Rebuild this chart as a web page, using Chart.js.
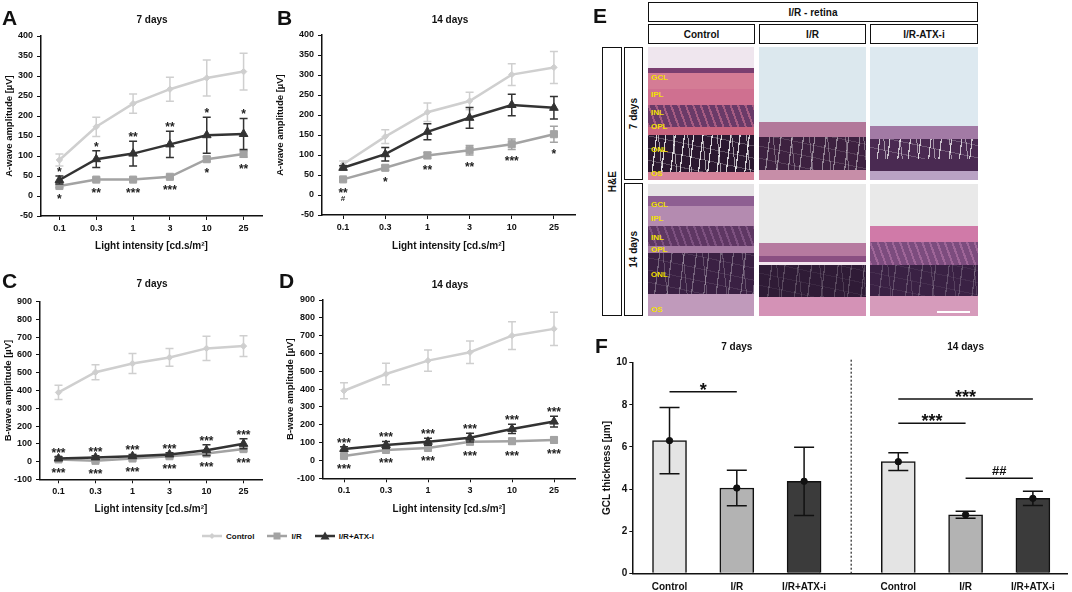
<!DOCTYPE html>
<html>
<head>
<meta charset="utf-8">
<title>ERG amplitudes and GCL thickness</title>
<script src="https://cdn.jsdelivr.net/npm/chart.js@4.4.1/dist/chart.umd.min.js"></script>
<style>
  body { margin: 0; background: #fff; }
  #fig { position: relative; width: 1072px; height: 592px; overflow: hidden;
         font-family: 'Liberation Sans', Arial, sans-serif; font-weight: bold; color: #111; }
  .abs { position: absolute; }
  .letter { position: absolute; font-size: 21px; line-height: 21px; }
  .ptitle { position: absolute; font-size: 10px; white-space: nowrap; transform: translate(-50%, -50%); }
  .box { position: absolute; box-sizing: border-box; border: 1.5px solid #111; background: #fff;
         display: flex; align-items: center; justify-content: center; font-size: 10px; white-space: nowrap; }
  .vert { writing-mode: vertical-rl; transform: rotate(180deg); }
  .tissue { position: absolute; overflow: hidden; }
  .layer { position: absolute; left: 3px; font-size: 8px; line-height: 8px; color: #f2e200; transform: translateY(-50%); }
  #legend { position: absolute; left: 202px; top: 531px; display: flex; align-items: center; font-size: 8px; }
  #legend .item { display: flex; align-items: center; margin-right: 13px; }
  #legend svg { margin-right: 4px; }
</style>
</head>
<body>
<div id="fig"></div>
<script>
// ---- data ----
const intensities = ['0.1', '0.3', '1', '3', '10', '25'];
const seriesNames = ['Control', 'I/R', 'I/R+ATX-i'];
const aWaveTicks = [-50, 0, 50, 100, 150, 200, 250, 300, 350, 400];
const bWaveTicks = [-100, 0, 100, 200, 300, 400, 500, 600, 700, 800, 900];

// A: a-wave, 7 days
const aControl = [90, 173, 231, 267, 295, 311];
const aControlSem = [15, 24, 24, 30, 45, 46];
const aIR = [25, 41, 41, 48, 92, 105];
const aIRSem = [4, 4, 4, 4, 6, 8];
const aATX = [40, 92, 106, 129, 152, 155];
const aATXSem = [10, 21, 31, 33, 45, 39];
const aStarsUp = ['*', '*', '**', '**', '*', '*'];
const aStarsDown = ['*', '**', '***', '***', '*', '**'];

// B: a-wave, 14 days
const bControl = [77, 146, 207, 235, 301, 319];
const bControlSem = [8, 17, 23, 22, 27, 40];
const bIR = [39, 68, 99, 112, 127, 152];
const bIRSem = [4, 6, 8, 12, 13, 20];
const bATX = [68, 102, 158, 193, 225, 218];
const bATXSem = [5, 17, 20, 26, 27, 28];
const bStarsUp = ['', '', '', '', '', ''];
const bStarsDown = ['**\n#', '*', '**', '**', '***', '*'];

// C: b-wave, 7 days
const cControl = [389, 503, 552, 586, 637, 650];
const cControlSem = [40, 42, 56, 50, 68, 58];
const cIR = [12, 4, 17, 30, 45, 70];
const cIRSem = [8, 8, 8, 8, 10, 10];
const cATX = [17, 23, 30, 40, 64, 100];
const cATXSem = [10, 10, 10, 10, 30, 28];
const cStarsUp = ['***', '***', '***', '***', '***', '***'];
const cStarsDown = ['***', '***', '***', '***', '***', '***'];

// D: b-wave, 14 days
const dControl = [391, 485, 560, 607, 700, 738];
const dControlSem = [45, 60, 60, 63, 78, 93];
const dIR = [25, 59, 70, 105, 108, 115];
const dIRSem = [8, 8, 8, 15, 15, 15];
const dATX = [65, 87, 105, 128, 177, 218];
const dATXSem = [12, 20, 20, 25, 26, 30];
const dStarsUp = ['***', '***', '***', '***', '***', '***'];
const dStarsDown = ['***', '***', '***', '***', '***', '***'];

// F: GCL thickness
const fGroups = ['7 days', '14 days'];
const fLabels = ['Control', 'I/R', 'I/R+ATX-i', 'Control', 'I/R', 'I/R+ATX-i'];
const fMean = [6.3, 4.05, 4.37, 5.3, 2.78, 3.56];
const fSD = [1.57, 0.84, 1.62, 0.42, 0.17, 0.34];
const gclTicks = [0, 2, 4, 6, 8, 10];
const fSigFrom = [0, 3, 3, 4];
const fSigTo = [1, 5, 4, 5];
const fSigY = [8.62, 8.28, 7.12, 4.51];
const fSigText = ['*', '***', '***', '##'];

// ---- setup ----
const fig = document.getElementById('fig');
const FONT = "'Liberation Sans', Arial, sans-serif";
Chart.defaults.font.family = FONT;
Chart.defaults.font.weight = 'bold';
Chart.defaults.color = '#111';
const INK = '#111';
const C_CTRL = '#cfcfcf', C_IR = '#a3a3a3', C_ATX = '#333333';
const BAR_COLORS = ['#e4e4e4', '#b3b3b3', '#3b3b3b'];

function addCanvas(left, top, w, h) {
  const c = document.createElement('canvas');
  c.width = w; c.height = h;
  c.className = 'abs';
  c.style.left = left + 'px'; c.style.top = top + 'px';
  c.style.width = w + 'px'; c.style.height = h + 'px';
  fig.appendChild(c);
  return c;
}

function addText(cls, left, top, text) {
  const d = document.createElement('div');
  d.className = cls;
  d.style.left = left + 'px'; d.style.top = top + 'px';
  d.textContent = text;
  fig.appendChild(d);
  return d;
}

// draws asterisks / hashes with their visual centre at cy
function drawMarks(ctx, text, x, cy, size) {
  ctx.font = 'bold ' + size + 'px ' + FONT;
  ctx.textAlign = 'center';
  ctx.textBaseline = 'alphabetic';
  const k = text.indexOf('*') >= 0 ? 0.57 : 0.36;
  ctx.fillText(text, x, cy + k * size);
}

const valueOf = d => (typeof d === 'object' ? d.y : d);

const errorBars = {
  id: 'errorBars',
  beforeDatasetDraw(chart, args) {
    const ds = chart.data.datasets[args.index];
    if (!ds.sem) return;
    const { ctx } = chart;
    const y = chart.scales.y;
    const cap = (ds.capWidth || 8) / 2;
    ctx.save();
    ctx.strokeStyle = ds.errColor || ds.borderColor;
    ctx.lineWidth = 1.5;
    args.meta.data.forEach((pt, i) => {
      const v = valueOf(ds.data[i]), e = ds.sem[i];
      const top = y.getPixelForValue(v + e), bot = y.getPixelForValue(v - e);
      ctx.beginPath();
      ctx.moveTo(pt.x, top); ctx.lineTo(pt.x, bot);
      ctx.moveTo(pt.x - cap, top); ctx.lineTo(pt.x + cap, top);
      ctx.moveTo(pt.x - cap, bot); ctx.lineTo(pt.x + cap, bot);
      ctx.stroke();
    });
    ctx.restore();
  }
};

function starsFor(up, down) {
  return {
    id: 'stars',
    afterDatasetsDraw(chart) {
      const { ctx } = chart;
      const y = chart.scales.y;
      const irDs = chart.data.datasets[1], atxDs = chart.data.datasets[2];
      const meta = chart.getDatasetMeta(1);
      ctx.save();
      ctx.fillStyle = '#222';
      intensities.forEach((_, i) => {
        const x = meta.data[i].x;
        if (up[i]) {
          const cy = y.getPixelForValue(atxDs.data[i] + atxDs.sem[i]) - 7;
          drawMarks(ctx, up[i], x, cy, 12);
        }
        if (down[i]) {
          let cy = y.getPixelForValue(irDs.data[i] - irDs.sem[i]) + 9;
          down[i].split('\n').forEach(line => {
            drawMarks(ctx, line, x, cy, line.indexOf('#') >= 0 ? 8 : 12);
            cy += 8.5;
          });
        }
      });
      ctx.restore();
    }
  };
}

function linePanel(p) {
  const cv = addCanvas(p.left, p.top, p.w, p.h);
  const mk = (label, data, sem, color, style, radius, order) => ({
    label, data, sem,
    borderColor: color, backgroundColor: color,
    pointBackgroundColor: color, pointBorderColor: color,
    pointStyle: style, pointRadius: radius, pointBorderWidth: 1,
    borderWidth: 2.5, tension: 0, order
  });
  return new Chart(cv, {
    type: 'line',
    data: {
      labels: intensities,
      datasets: [
        mk(seriesNames[0], p.ctrl, p.ctrlSem, C_CTRL, 'rectRot', 3.2, 2),
        mk(seriesNames[1], p.ir, p.irSem, C_IR, 'rect', 5, 1),
        mk(seriesNames[2], p.atx, p.atxSem, C_ATX, 'triangle', 5, 0)
      ]
    },
    options: {
      responsive: false,
      animation: false,
      events: [],
      layout: { padding: { left: 0, top: p.padTop, right: p.padRight, bottom: 0 } },
      plugins: { legend: { display: false }, tooltip: { enabled: false } },
      scales: {
        x: {
          offset: true,
          grid: { drawOnChartArea: false, tickLength: 4, color: INK, lineWidth: 1 },
          border: { color: INK, width: 1.5 },
          ticks: { font: { size: 9, weight: 'bold' }, color: INK, padding: 3, maxRotation: 0, autoSkip: false },
          title: { display: true, text: 'Light intensity [cd.s/m²]', font: { size: 10, weight: 'bold' },
                   color: INK, padding: { top: 0, bottom: 3 } },
          afterFit: s => { s.height = p.xAxisH; }
        },
        y: {
          min: p.ticks[0],
          max: p.ticks[p.ticks.length - 1],
          afterBuildTicks: s => { s.ticks = p.ticks.map(v => ({ value: v })); },
          grid: { drawOnChartArea: false, tickLength: 4, color: INK, lineWidth: 1 },
          border: { color: INK, width: 1.5 },
          ticks: { font: { size: 9, weight: 'bold' }, color: INK, padding: 4 },
          title: { display: true, text: p.yTitle, font: { size: 9.5, weight: 'bold' },
                   color: INK, padding: { top: p.titlePad, bottom: 0 } },
          afterFit: s => { s.width = p.yAxisW; }
        }
      }
    },
    plugins: [errorBars, starsFor(p.up, p.down)]
  });
}

// ---- panels A-D ----
linePanel({ left: 0, top: 0, w: 268, h: 255, yAxisW: 41, padTop: 36, padRight: 3, xAxisH: 39, titlePad: 3.8,
  ticks: aWaveTicks, yTitle: 'A-wave amplitude [µV]',
  ctrl: aControl, ctrlSem: aControlSem, ir: aIR, irSem: aIRSem, atx: aATX, atxSem: aATXSem,
  up: aStarsUp, down: aStarsDown });
linePanel({ left: 270, top: 0, w: 311, h: 255, yAxisW: 52, padTop: 35, padRight: 4, xAxisH: 40, titlePad: 4.3,
  ticks: aWaveTicks, yTitle: 'A-wave amplitude [µV]',
  ctrl: bControl, ctrlSem: bControlSem, ir: bIR, irSem: bIRSem, atx: bATX, atxSem: bATXSem,
  up: bStarsUp, down: bStarsDown });
linePanel({ left: 0, top: 250, w: 268, h: 268, yAxisW: 40, padTop: 51.7, padRight: 3, xAxisH: 38.7, titlePad: 2.8,
  ticks: bWaveTicks, yTitle: 'B-wave amplitude [µV]',
  ctrl: cControl, ctrlSem: cControlSem, ir: cIR, irSem: cIRSem, atx: cATX, atxSem: cATXSem,
  up: cStarsUp, down: cStarsDown });
linePanel({ left: 280, top: 250, w: 301, h: 268, yAxisW: 43, padTop: 50, padRight: 4, xAxisH: 39.7, titlePad: 4.3,
  ticks: bWaveTicks, yTitle: 'B-wave amplitude [µV]',
  ctrl: dControl, ctrlSem: dControlSem, ir: dIR, irSem: dIRSem, atx: dATX, atxSem: dATXSem,
  up: dStarsUp, down: dStarsDown });

addText('ptitle', 152, 19, '7 days');
addText('ptitle', 450, 19, '14 days');
addText('ptitle', 152, 283, '7 days');
addText('ptitle', 450, 284, '14 days');

// shared legend
const legendShapes = [
  '<polygon points="10,2 13,5 10,8 7,5" fill="' + C_CTRL + '"/>',
  '<rect x="6.5" y="1.5" width="7" height="7" fill="' + C_IR + '"/>',
  '<polygon points="10,0.5 14.5,8.5 5.5,8.5" fill="' + C_ATX + '"/>'
];
const legendColors = [C_CTRL, C_IR, C_ATX];
const legend = document.createElement('div');
legend.id = 'legend';
legend.innerHTML = seriesNames.map((name, i) =>
  '<span class="item"><svg width="20" height="10"><line x1="0" y1="5" x2="20" y2="5" stroke="' +
  legendColors[i] + '" stroke-width="2.5"/>' + legendShapes[i] + '</svg>' + name + '</span>').join('');
fig.appendChild(legend);

// ---- panel E (histology, drawn as layered bands) ----
function box(left, top, w, h, html, vertical) {
  const d = document.createElement('div');
  d.className = 'box';
  Object.assign(d.style, { left: left + 'px', top: top + 'px', width: w + 'px', height: h + 'px' });
  d.innerHTML = vertical ? '<span class="vert">' + html + '</span>' : html;
  fig.appendChild(d);
}
box(648, 2, 330, 20, 'I/R - retina');
box(648, 24, 107, 20, 'Control');
box(759, 24, 107, 20, 'I/R');
box(870, 24, 108, 20, 'I/R-ATX-i');
box(602, 47, 20, 269, 'H&amp;E', true);
box(624, 47, 19, 133, '7 days', true);
box(624, 183, 19, 133, '14 days', true);

function bands(list) {
  return 'linear-gradient(to bottom, ' + list.map(b => b[0] + ' ' + b[1] + 'px ' + b[2] + 'px').join(', ') + ')';
}
// irregular pale gaps between nuclei
function cracks(a, b, alpha, step) {
  const h = b - a;
  return [
    'repeating-linear-gradient(97deg, transparent 0 ' + step + 'px, rgba(255,255,255,' + alpha + ') ' + step +
      'px ' + (step + 1.2) + 'px) 0 ' + a + 'px / 100% ' + h + 'px no-repeat',
    'repeating-linear-gradient(84deg, transparent 0 ' + (step * 1.7) + 'px, rgba(255,255,255,' + (alpha * 0.7) + ') ' +
      (step * 1.7) + 'px ' + (step * 1.7 + 1) + 'px) 0 ' + a + 'px / 100% ' + h + 'px no-repeat',
    'repeating-linear-gradient(12deg, transparent 0 11px, rgba(255,255,255,' + (alpha * 0.3) + ') 11px 12px) 0 ' + a +
      'px / 100% ' + h + 'px no-repeat'
  ].join(', ');
}
function mottle(a, b, color) {
  return 'repeating-linear-gradient(70deg, ' + color + ' 0 2px, transparent 2px 7px) 0 ' + a + 'px / 100% ' +
    (b - a) + 'px no-repeat';
}
const tissues = [
  { left: 648, top: 47, w: 106, h: 133,
    bg: [mottle(58, 80, 'rgba(225,125,155,0.5)'), cracks(88, 125, 0.8, 8),
      bands([['#efe6ee', 0, 21], ['#7a3f70', 21, 26], ['#d47c95', 26, 42], ['#cf7090', 42, 58], ['#6a3a68', 58, 80],
             ['#c9647f', 80, 88], ['#2b1830', 88, 125], ['#d6849c', 125, 133]])] },
  { left: 759, top: 47, w: 107, h: 133,
    bg: [cracks(90, 123, 0.45, 10),
      bands([['#dce8ee', 0, 75], ['#b2789a', 75, 90], ['#3d2140', 90, 123], ['#c78ea8', 123, 133]])] },
  { left: 870, top: 47, w: 108, h: 133,
    bg: [cracks(92, 112, 0.7, 9),
      bands([['#dde9f0', 0, 79], ['#a27aa5', 79, 92], ['#4a2a52', 92, 124], ['#b9a2c4', 124, 133]])] },
  { left: 648, top: 184, w: 106, h: 132,
    bg: [mottle(42, 62, 'rgba(170,120,170,0.4)'), cracks(69, 110, 0.3, 11),
      bands([['#e5e3e5', 0, 12], ['#8e5f92', 12, 22], ['#b48bb0', 22, 42], ['#5e3763', 42, 62], ['#a57ba2', 62, 69],
             ['#3a2043', 69, 110], ['#c09abb', 110, 132]])] },
  { left: 759, top: 184, w: 107, h: 132,
    bg: [cracks(81, 113, 0.2, 12),
      bands([['#e9e9e9', 0, 59], ['#b67aa0', 59, 72], ['#8a4f82', 72, 78], ['#f3e6ef', 78, 81], ['#2f1b36', 81, 113],
             ['#d492b6', 113, 132]])] },
  { left: 870, top: 184, w: 108, h: 132,
    bg: [mottle(58, 81, 'rgba(210,140,190,0.4)'), cracks(81, 112, 0.2, 12),
      bands([['#e9e9e9', 0, 42], ['#d07aa8', 42, 58], ['#7c4c7e', 58, 81], ['#3a2144', 81, 112], ['#d69bbb', 112, 132]])] }
];
tissues.forEach(t => {
  const d = document.createElement('div');
  d.className = 'tissue';
  Object.assign(d.style, { left: t.left + 'px', top: t.top + 'px', width: t.w + 'px', height: t.h + 'px', background: t.bg.join(', ') });
  fig.appendChild(d);
  t.el = d;
});
const layerNames = ['GCL', 'IPL', 'INL', 'OPL', 'ONL', 'OS'];
const layerRowY = [[31, 48, 66, 80, 103, 127], [21, 35, 54, 66, 91, 126]];
[tissues[0], tissues[3]].forEach((t, r) => {
  layerNames.forEach((n, i) => {
    const s = document.createElement('div');
    s.className = 'layer';
    s.style.top = layerRowY[r][i] + 'px';
    s.textContent = n;
    t.el.appendChild(s);
  });
});
const scaleBar = document.createElement('div');
Object.assign(scaleBar.style, { position: 'absolute', left: '67px', top: '127px', width: '33px', height: '2px', background: '#fff' });
tissues[5].el.appendChild(scaleBar);

// ---- panel F ----
const fGap = 0.4;
const fPos = fLabels.map((_, i) => (i % 3) + Math.floor(i / 3) * (3 + fGap));
const fPoints = fPos.map((x, i) => ({ x, y: fMean[i] }));

const fExtras = {
  id: 'fExtras',
  beforeDatasetsDraw(chart) {
    const { ctx, chartArea } = chart;
    const x = chart.scales.x;
    const xm = (x.getPixelForValue(fPos[2]) + x.getPixelForValue(fPos[3])) / 2;
    ctx.save();
    ctx.strokeStyle = '#333';
    ctx.lineWidth = 1.3;
    ctx.setLineDash([2, 2]);
    ctx.beginPath();
    ctx.moveTo(xm, chartArea.top - 3);
    ctx.lineTo(xm, chartArea.bottom);
    ctx.stroke();
    ctx.restore();
  },
  afterDatasetsDraw(chart) {
    const { ctx, chartArea } = chart;
    const x = chart.scales.x, y = chart.scales.y;
    ctx.save();
    ctx.strokeStyle = INK;
    ctx.fillStyle = INK;
    ctx.lineWidth = 1.5;
    fSigText.forEach((t, k) => {
      const x1 = x.getPixelForValue(fPos[fSigFrom[k]]), x2 = x.getPixelForValue(fPos[fSigTo[k]]);
      const yy = y.getPixelForValue(fSigY[k]);
      ctx.beginPath();
      ctx.moveTo(x1, yy); ctx.lineTo(x2, yy);
      ctx.stroke();
      const isHash = t.indexOf('#') >= 0;
      drawMarks(ctx, t, (x1 + x2) / 2, yy - (isHash ? 8 : 6.5), isHash ? 13 : 18);
    });
    ctx.font = 'bold 10px ' + FONT;
    ctx.textAlign = 'center';
    ctx.textBaseline = 'middle';
    fGroups.forEach((g, gi) => {
      const xc = x.getPixelForValue((fPos[gi * 3] + fPos[gi * 3 + 2]) / 2);
      ctx.fillText(g, xc, chartArea.top - 15);
    });
    ctx.restore();
  }
};

new Chart(addCanvas(597, 340, 475, 252), {
  type: 'bar',
  data: {
    datasets: [
      { type: 'bar', data: fPoints, backgroundColor: fPos.map((_, i) => BAR_COLORS[i % 3]),
        borderColor: INK, borderWidth: 1.5, barThickness: 34, order: 1 },
      { type: 'line', data: fPoints, showLine: false, sem: fSD, capWidth: 20, errColor: INK,
        pointRadius: 3.2, pointBackgroundColor: INK, pointBorderColor: INK, order: 0 }
    ]
  },
  options: {
    responsive: false,
    animation: false,
    events: [],
    layout: { padding: { left: 0, top: 22.7, right: 2, bottom: 0 } },
    plugins: { legend: { display: false }, tooltip: { enabled: false } },
    scales: {
      x: {
        type: 'linear',
        offset: false,
        min: -0.553,
        max: 5.907,
        afterBuildTicks: s => { s.ticks = fPos.map(v => ({ value: v })); },
        grid: { display: false, drawTicks: false },
        border: { color: INK, width: 1.5 },
        ticks: { font: { size: 10, weight: 'bold' }, color: INK, padding: 8, maxRotation: 0, autoSkip: false,
                 callback: (v, i) => fLabels[i] },
        afterFit: s => { s.height = 18.7; }
      },
      y: {
        min: gclTicks[0],
        max: gclTicks[gclTicks.length - 1],
        afterBuildTicks: s => { s.ticks = gclTicks.map(v => ({ value: v })); },
        grid: { drawOnChartArea: false, tickLength: 3, color: INK, lineWidth: 1 },
        border: { color: INK, width: 1.5 },
        ticks: { font: { size: 10, weight: 'bold' }, color: INK, padding: 2 },
        title: { display: true, text: 'GCL thickness [µm]', font: { size: 10, weight: 'bold' }, color: INK,
                 padding: { top: 4, bottom: 0 } },
        afterFit: s => { s.width = 35.3; }
      }
    }
  },
  plugins: [errorBars, fExtras]
});

// ---- panel letters ----
addText('letter', 2, 7, 'A');
addText('letter', 277, 7, 'B');
addText('letter', 2, 270, 'C');
addText('letter', 279, 270, 'D');
addText('letter', 593, 5, 'E');
addText('letter', 595, 335, 'F');
</script>
</body>
</html>
